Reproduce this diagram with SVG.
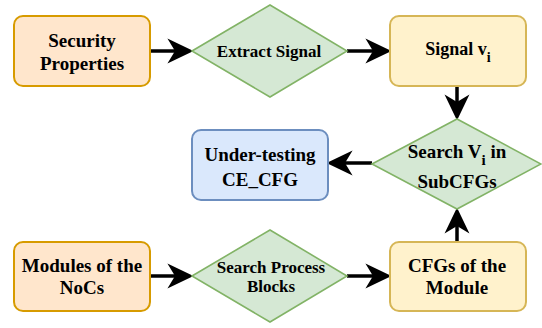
<svg xmlns="http://www.w3.org/2000/svg" width="542" height="328" viewBox="0 0 542 328" font-family="'Liberation Serif', 'DejaVu Serif', serif">
<style>
text{font-family:'Liberation Serif','DejaVu Serif',serif;font-weight:bold;fill:#000;text-anchor:middle}
.b{font-size:19px}
.d{font-size:17px}
.orange{fill:#ffe6cc;stroke:#d79b00;stroke-width:2}
.yellow{fill:#fff2cc;stroke:#d6b656;stroke-width:2}
.blue{fill:#dae8fc;stroke:#6c8ebf;stroke-width:2}
.green{fill:#d5e8d4;stroke:#82b366;stroke-width:1.6}
.edge{fill:none;stroke:#000;stroke-width:3.5;marker-end:url(#ah)}
</style>
<defs>
<marker id="ah" markerUnits="userSpaceOnUse" markerWidth="26" markerHeight="26" refX="7" refY="11.5" orient="auto" viewBox="0 0 24 23">
<path d="M0,0 L24,11.5 L0,23 L7,11.5 Z" fill="#000"/>
</marker>
</defs>
<g id="edges">
<path class="edge" d="M150,51 H175"/>
<path class="edge" d="M347,51 H373"/>
<path class="edge" d="M457,86 V102"/>
<path class="edge" d="M372,163 H345"/>
<path class="edge" d="M150,276 H175"/>
<path class="edge" d="M347,276 H373"/>
<path class="edge" d="M457,242 V226"/>
</g>
<g id="security">
<rect class="orange" x="14" y="16" width="136" height="70" rx="9"/>
<text class="b" x="82" y="47">Security</text>
<text class="b" x="82" y="70">Properties</text>
</g>
<g id="extract">
<polygon class="green" points="192,51 270,5 347,51 270,97"/>
<text class="d" x="269" y="57">Extract Signal</text>
</g>
<g id="signal">
<rect class="yellow" x="390" y="16" width="136" height="70" rx="9"/>
<text style="font-size:18px" x="458" y="55">Signal v<tspan dy="7" style="font-size:14px">i</tspan></text>
</g>
<g id="searchv">
<polygon class="green" points="372,164 457,119 541,164 457,209"/>
<text class="b" x="457" y="158">Search V<tspan dy="7" style="font-size:15px">i</tspan><tspan dy="-7"> in</tspan></text>
<text class="b" x="457" y="188">SubCFGs</text>
</g>
<g id="undertesting">
<rect class="blue" x="192" y="130" width="136" height="70" rx="9"/>
<text class="b" x="260" y="161">Under-testing</text>
<text class="b" x="260" y="186">CE_CFG</text>
</g>
<g id="modules">
<rect class="orange" x="14" y="242" width="136" height="69" rx="9"/>
<text class="b" x="82" y="272">Modules of the</text>
<text class="b" x="82" y="294">NoCs</text>
</g>
<g id="searchp">
<polygon class="green" points="192,276 270,230 347,276 270,322"/>
<text class="d" x="271" y="273">Search Process</text>
<text class="d" x="271" y="292">Blocks</text>
</g>
<g id="cfgs">
<rect class="yellow" x="390" y="242" width="136" height="69" rx="9"/>
<text class="b" x="457" y="272">CFGs of the</text>
<text class="b" x="457" y="294">Module</text>
</g>
</svg>
